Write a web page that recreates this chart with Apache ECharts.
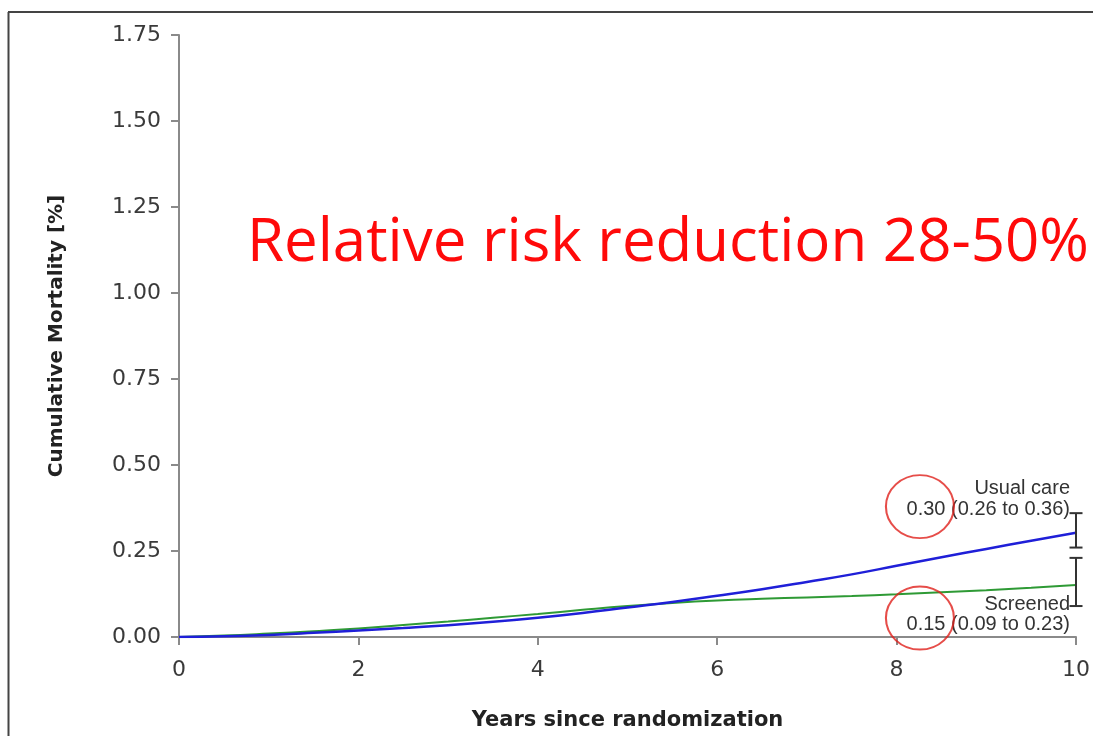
<!DOCTYPE html>
<html>
<head>
<meta charset="utf-8">
<script src="https://cdn.jsdelivr.net/npm/echarts@6/dist/echarts.min.js"></script>
<style>html,body{margin:0;padding:0;background:#fff;}#c{width:1093px;height:736px;}</style>
</head>
<body>
<div id="c"></div>
<script>
// Data
const years = [0,0.5,1,1.5,2,2.5,3,3.5,4,4.5,5,5.5,6,6.5,7,7.5,8,8.5,9,9.5,10];
const usualCare = [0,0.002,0.006,0.012,0.019,0.026,0.034,0.044,0.056,0.070,0.086,0.102,0.120,0.139,0.160,0.182,0.207,0.232,0.256,0.280,0.303];
const screened  = [0,0.004,0.010,0.017,0.025,0.035,0.045,0.056,0.067,0.079,0.090,0.099,0.106,0.111,0.115,0.119,0.124,0.130,0.136,0.143,0.151];
const ciBars = [[10,0.26,0.36],[10,0.09,0.23]];
const highlightCircles = [[8.26,0.379],[8.26,0.055]];
const yTicks = [0,0.25,0.5,0.75,1,1.25,1.5,1.75];
const xTicks = [0,2,4,6,8,10];
const annotations = ['Usual care','0.30 (0.26 to 0.36)','Screened','0.15 (0.09 to 0.23)'];
const headline = 'Relative risk reduction 28-50%';

const chart = echarts.init(document.getElementById('c'), null, {renderer:'canvas'});
const axisGray = '#8a8a8a';
const option = {
  backgroundColor:'#fff',
  animation:false,
  grid:{left:179,right:13,top:35,bottom:99,containLabel:false},
  xAxis:{
    type:'value',min:0,max:10,interval:2,
    name:'Years since randomization',nameLocation:'middle',nameGap:73,
    nameTextStyle:{fontFamily:'DejaVu Sans',fontWeight:'bold',fontSize:21,color:'#222'},
    axisLine:{show:true,lineStyle:{color:axisGray,width:2}},
    axisTick:{show:true,length:8,lineStyle:{color:axisGray,width:2}},
    axisLabel:{fontFamily:'DejaVu Sans',fontSize:22,color:'#3a3a3a',margin:22,
      formatter:v=>xTicks.includes(v)?String(v):''},
    splitLine:{show:false}
  },
  yAxis:{
    type:'value',min:0,max:1.75,interval:0.25,
    name:'Cumulative Mortality [%]',nameLocation:'middle',nameGap:112,nameRotate:90,
    nameTextStyle:{fontFamily:'DejaVu Sans',fontWeight:'bold',fontSize:20,color:'#222'},
    axisLine:{show:true,lineStyle:{color:axisGray,width:2}},
    axisTick:{show:true,length:8,lineStyle:{color:axisGray,width:2}},
    axisLabel:{fontFamily:'DejaVu Sans',fontSize:22,color:'#3a3a3a',margin:18,
      formatter:v=>v.toFixed(2)},
    splitLine:{show:false}
  },
  series:[
    {type:'line',name:'Screened',data:years.map((x,i)=>[x,screened[i]]),showSymbol:false,smooth:true,
     lineStyle:{color:'#2e9a35',width:2},z:3},
    {type:'line',name:'Usual care',data:years.map((x,i)=>[x,usualCare[i]]),showSymbol:false,smooth:true,
     lineStyle:{color:'#1f1fd8',width:2.5},z:4},
    {type:'custom',name:'CI',data:ciBars,clip:false,z:5,
     renderItem:function(params,api){
       const x=api.value(0),lo=api.value(1),hi=api.value(2);
       const a=api.coord([x,lo]),b=api.coord([x,hi]);
       const w=6.5, st={stroke:'#333',lineWidth:2};
       return {type:'group',children:[
         {type:'line',shape:{x1:a[0],y1:a[1],x2:b[0],y2:b[1]},style:st},
         {type:'line',shape:{x1:a[0]-w,y1:a[1],x2:a[0]+w,y2:a[1]},style:st},
         {type:'line',shape:{x1:b[0]-w,y1:b[1],x2:b[0]+w,y2:b[1]},style:st}
       ]};
     }},
    {type:'scatter',name:'circles',data:highlightCircles,symbol:'circle',symbolSize:[68,63],clip:false,z:6,
     itemStyle:{color:'rgba(0,0,0,0)',borderColor:'#e0201c',borderWidth:2}}
  ],
  graphic:[
    {type:'line',shape:{x1:8.5,y1:12,x2:8.5,y2:736},style:{stroke:'#444',lineWidth:2},silent:true},
    {type:'line',shape:{x1:8,y1:12,x2:1093,y2:12},style:{stroke:'#444',lineWidth:2},silent:true},
    {type:'text',left:247,top:214,style:{text:headline,fontFamily:'Open Sans',fontSize:60,fill:'#ff0a0a'}},
    {type:'text',right:23,top:478,style:{text:annotations[0],fontFamily:'Liberation Sans',fontSize:20,fill:'#333'}},
    {type:'text',right:23,top:499,style:{text:annotations[1],fontFamily:'Liberation Sans',fontSize:20,fill:'#333'}},
    {type:'text',right:23,top:594,style:{text:annotations[2],fontFamily:'Liberation Sans',fontSize:20,fill:'#333'}},
    {type:'text',right:23,top:614,style:{text:annotations[3],fontFamily:'Liberation Sans',fontSize:20,fill:'#333'}}
  ]
};
chart.setOption(option);
</script>
</body>
</html>
